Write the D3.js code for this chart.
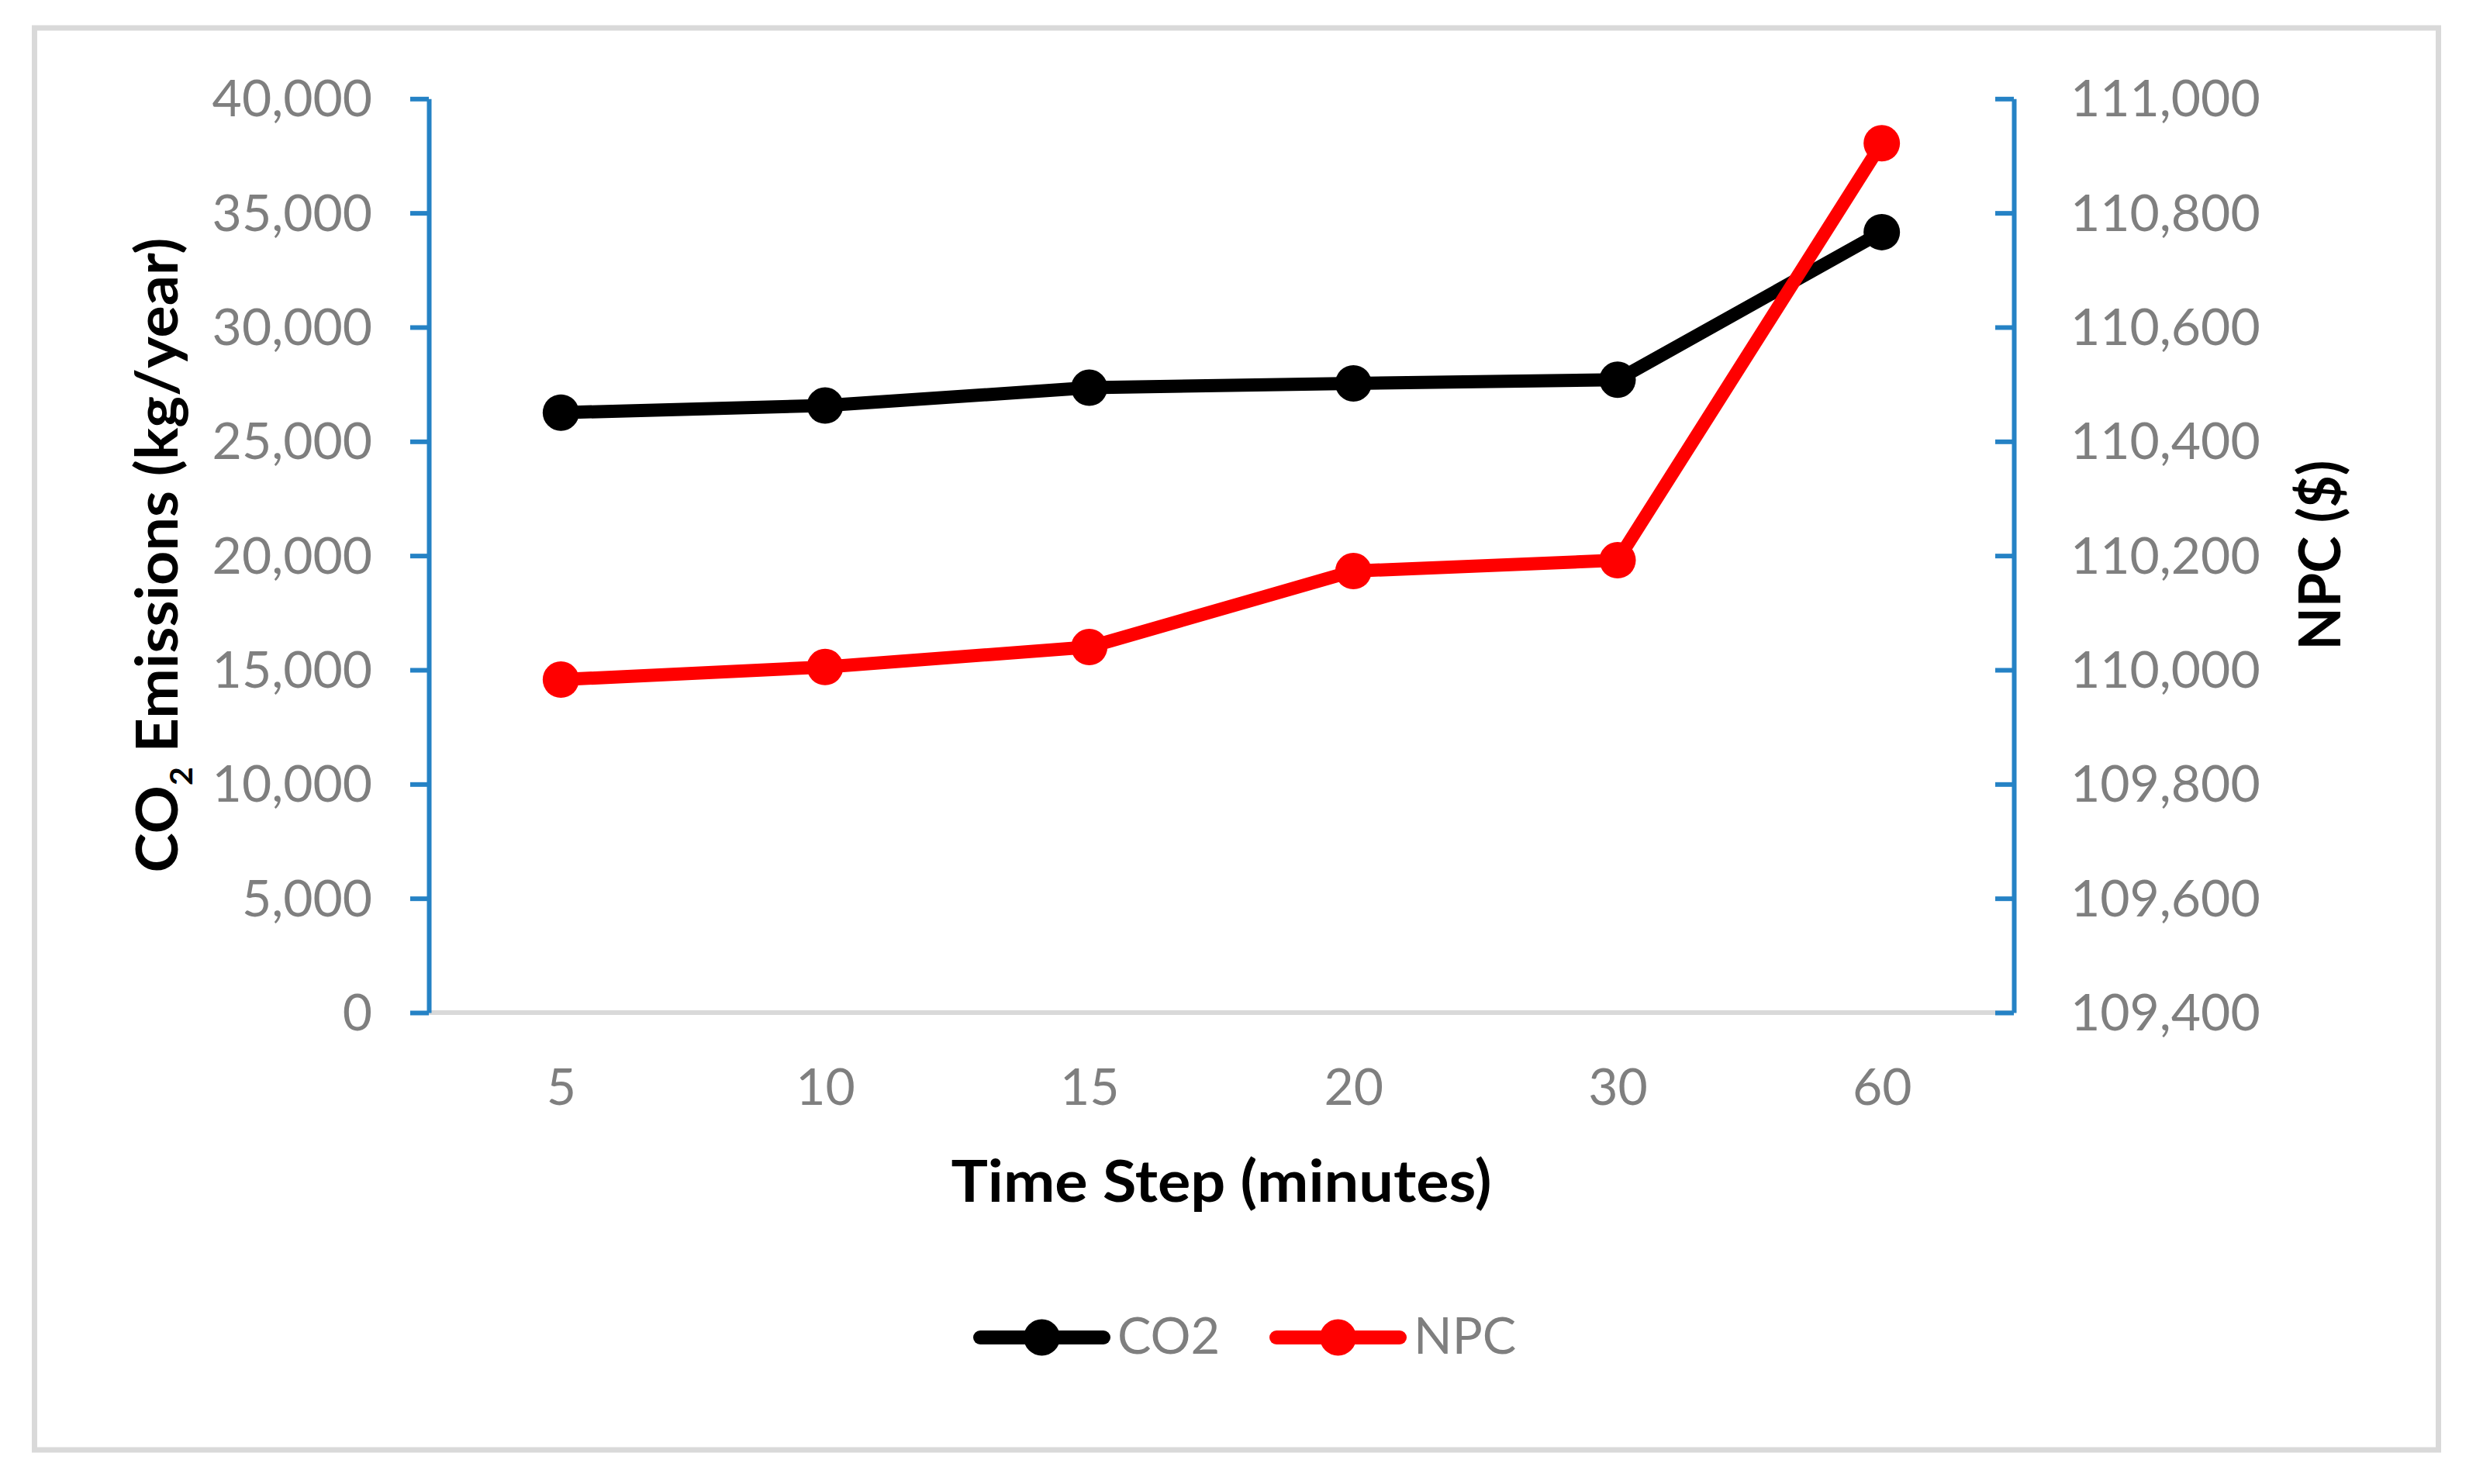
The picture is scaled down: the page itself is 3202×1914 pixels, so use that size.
<!DOCTYPE html>
<html>
<head>
<meta charset="utf-8">
<script src="https://cdn.jsdelivr.net/npm/d3@7"></script>
<style>
  html, body { margin: 0; padding: 0; background: #ffffff; }
  svg { display: block; }
</style>
</head>
<body>
<script>
// ---- Data ----
const categories = ["5", "10", "15", "20", "30", "60"];
const co2Values = [26260, 26570, 27350, 27540, 27700, 34160];
const npcValues = [109983, 110005, 110040, 110173, 110192, 110922];
const co2Ticks = [0, 5000, 10000, 15000, 20000, 25000, 30000, 35000, 40000];
const npcTicks = [109400, 109600, 109800, 110000, 110200, 110400, 110600, 110800, 111000];
const seriesNames = ["CO2", "NPC"];
const seriesColors = ["#000000", "#ff0000"];
const xTitle = "Time Step (minutes)";
const yLeftTitle = ["CO", "2", " Emissions (kg/year)"];
const yRightTitle = "NPC ($)";

// ---- Layout ----
const W = 3202, H = 1914;
const plot = { left: 553, right: 2597, top: 127.3, bottom: 1306 };
const FONT = "Lato, 'Open Sans', 'Noto Sans', sans-serif";
const GRAY = "#7f7f7f";
const AXIS_BLUE = "#2582c5";
const BORDER = "#d9d9d9";

const svg = d3.select("body").append("svg")
  .attr("width", W).attr("height", H)
  .attr("viewBox", `0 0 ${W} ${H}`);

svg.append("rect").attr("width", W).attr("height", H).attr("fill", "#fff");

// outer chart border
svg.append("rect")
  .attr("x", 44.5).attr("y", 36)
  .attr("width", 3100).attr("height", 1834)
  .attr("fill", "none").attr("stroke", BORDER).attr("stroke-width", 7);

// ---- Scales ----
const x = d3.scalePoint().domain(categories).range([plot.left, plot.right]).padding(0.5);
const yL = d3.scaleLinear().domain([0, 40000]).range([plot.bottom, plot.top]);
const yR = d3.scaleLinear().domain([109400, 111000]).range([plot.bottom, plot.top]);
const fmt = d3.format(",");

// ---- X axis (gray line, labels) ----
const xAxisG = svg.append("g")
  .attr("transform", `translate(0,${plot.bottom})`)
  .call(d3.axisBottom(x).tickSize(0).tickSizeOuter(0));
xAxisG.select(".domain")
  .attr("d", `M${plot.left},0H${plot.right}`)
  .attr("stroke", BORDER).attr("stroke-width", 6);
xAxisG.selectAll(".tick text")
  .attr("y", 119).attr("dy", null)
  .attr("fill", GRAY)
  .style("font-family", FONT).style("font-size", "66px");

// ---- Left axis ----
const yLG = svg.append("g")
  .attr("transform", `translate(${plot.left},0)`)
  .call(d3.axisLeft(yL).tickValues(co2Ticks).tickFormat(fmt)
    .tickSizeInner(24).tickSizeOuter(0).tickPadding(49));
yLG.select(".domain").attr("stroke", AXIS_BLUE).attr("stroke-width", 6);
yLG.selectAll(".tick line").attr("stroke", AXIS_BLUE).attr("stroke-width", 6);
yLG.selectAll(".tick text")
  .attr("fill", GRAY).attr("dy", "0.34em")
  .style("font-family", FONT).style("font-size", "66px");

// ---- Right axis ----
const yRG = svg.append("g")
  .attr("transform", `translate(${plot.right},0)`)
  .call(d3.axisRight(yR).tickValues(npcTicks).tickFormat(fmt)
    .tickSizeInner(-24).tickSizeOuter(0).tickPadding(73));
yRG.select(".domain").attr("stroke", AXIS_BLUE).attr("stroke-width", 6);
yRG.selectAll(".tick line").attr("stroke", AXIS_BLUE).attr("stroke-width", 6);
yRG.selectAll(".tick text")
  .attr("fill", GRAY).attr("dy", "0.34em")
  .style("font-family", FONT).style("font-size", "66px");
svg.selectAll(".domain").attr("fill", "none");
svg.selectAll("g").attr("font-family", null).attr("font-size", null);

// ---- Lines ----
const series = [
  { name: seriesNames[0], color: seriesColors[0], values: co2Values, y: yL },
  { name: seriesNames[1], color: seriesColors[1], values: npcValues, y: yR }
];
series.forEach(s => {
  const pts = categories.map((c, i) => [x(c), s.y(s.values[i])]);
  svg.append("path")
    .attr("d", d3.line()(pts))
    .attr("fill", "none").attr("stroke", s.color)
    .attr("stroke-width", 17).attr("stroke-linejoin", "round").attr("stroke-linecap", "round");
  svg.append("g").selectAll("circle").data(pts).join("circle")
    .attr("cx", d => d[0]).attr("cy", d => d[1]).attr("r", 23.5)
    .attr("fill", s.color);
});

// ---- Titles ----
function fitGroup(g, textSel, target, tx, ty, rot) {
  const w = textSel.node().getBBox().width;
  const sx = target / w;
  g.attr("transform", `translate(${tx},${ty})${rot ? " rotate(-90)" : ""} scale(${sx},1)`);
}

// X title
{
  const g = svg.append("g");
  const t = g.append("text").attr("text-anchor", "middle")
    .style("font-family", FONT).style("font-size", "75px").style("font-weight", "bold")
    .attr("fill", "#000").text(xTitle);
  fitGroup(g, t, 697, 1575, 1550, false);
}
// Left title with subscript
{
  const g = svg.append("g");
  const t = g.append("text").attr("text-anchor", "middle")
    .style("font-family", FONT).style("font-size", "75px").style("font-weight", "bold")
    .attr("fill", "#000");
  t.append("tspan").text(yLeftTitle[0]);
  t.append("tspan").attr("dy", 19).style("font-size", "40px").text(yLeftTitle[1]);
  t.append("tspan").attr("dy", -19).text(yLeftTitle[2]);
  fitGroup(g, t, 819, 229, 716, true);
}
// Right title
{
  const g = svg.append("g");
  const t = g.append("text").attr("text-anchor", "middle")
    .style("font-family", FONT).style("font-size", "75px").style("font-weight", "bold")
    .attr("fill", "#000").text(yRightTitle);
  fitGroup(g, t, 245, 3018, 716, true);
}

// ---- Legend ----
const legendItems = [
  { name: seriesNames[0], color: seriesColors[0], x0: 1255 },
  { name: seriesNames[1], color: seriesColors[1], x0: 1637 }
];
const legendY = 1725, legendLen = 177, capR = 9;
legendItems.forEach(d => {
  const g = svg.append("g");
  g.append("line")
    .attr("x1", d.x0 + capR).attr("x2", d.x0 + legendLen - capR)
    .attr("y1", legendY).attr("y2", legendY)
    .attr("stroke", d.color).attr("stroke-width", 18).attr("stroke-linecap", "round");
  g.append("circle").attr("cx", d.x0 + legendLen / 2).attr("cy", legendY).attr("r", 23.5).attr("fill", d.color);
  g.append("text").attr("x", d.x0 + legendLen + 9).attr("y", 1746)
    .attr("fill", GRAY)
    .style("font-family", FONT).style("font-size", "65px")
    .text(d.name);
});
</script>
</body>
</html>
